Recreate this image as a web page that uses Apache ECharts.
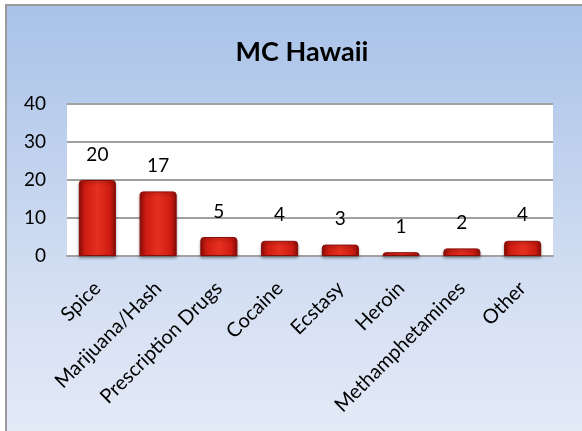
<!DOCTYPE html>
<html>
<head>
<meta charset="utf-8">
<script src="https://cdn.jsdelivr.net/npm/echarts@6/dist/echarts.min.js"></script>
<style>
html,body{margin:0;padding:0;background:#fff;}
#chart{width:582px;height:431px;}
</style>
</head>
<body>
<div id="chart"></div>
<script>
var categories = ['Spice','Marijuana/Hash','Prescription Drugs','Cocaine','Ecstasy','Heroin','Methamphetamines','Other'];
var values = [20, 17, 5, 4, 3, 1, 2, 4];
var yTicks = [0, 10, 20, 30, 40];
var titleText = 'MC Hawaii';

var FONT = 'Lato, "Liberation Sans", sans-serif';
var chart = echarts.init(document.getElementById('chart'), null, {renderer:'canvas'});
var barColor = new echarts.graphic.LinearGradient(0,0,1,0,[
  {offset:0, color:'#8e0d08'},
  {offset:0.18, color:'#cf1d12'},
  {offset:0.5, color:'#e5301f'},
  {offset:0.82, color:'#cf1d12'},
  {offset:1, color:'#8e0d08'}
]);
chart.setOption({
  animation:false,
  graphic:[{
    type:'rect', z:-10, silent:true,
    shape:{x:6, y:5, width:600, height:460},
    style:{
      fill:new echarts.graphic.LinearGradient(0,0,0,1,[
        {offset:0, color:'#a8c2e8'},
        {offset:0.6, color:'#d3def2'},
        {offset:1, color:'#e7edf8'}
      ]),
      stroke:'#9a9a9a', lineWidth:2
    }
  }],
  title:{
    text:titleText, left:297, top:34, textAlign:'center',
    textStyle:{fontFamily:FONT, fontWeight:'bold', fontSize:27, color:'#000'}
  },
  grid:{left:67, right:29, top:104, bottom:175, show:true, backgroundColor:'#fff', borderWidth:0, containLabel:false},
  xAxis:{
    type:'category', data:categories,
    axisLine:{show:true, lineStyle:{color:'#a0a0a0', width:2}},
    axisTick:{show:false},
    axisLabel:{rotate:45, interval:0, margin:29, fontFamily:FONT, fontSize:20, color:'#000'}
  },
  yAxis:{
    type:'value', min:yTicks[0], max:yTicks[yTicks.length-1], interval:10,
    axisLine:{show:false}, axisTick:{show:false},
    axisLabel:{margin:21, fontFamily:FONT, fontSize:19, color:'#000'},
    splitLine:{lineStyle:{color:'#a0a0a0', width:2}}
  },
  series:[{
    type:'bar', data:values, barWidth:'61%',
    itemStyle:{color:barColor, borderColor:'#8a0c08', borderWidth:1, borderRadius:[3,3,0,0],
      shadowColor:'rgba(0,0,0,0.35)', shadowBlur:3, shadowOffsetY:2},
    label:{show:true, position:'top', distance:16, fontFamily:FONT, fontSize:19, color:'#000'}
  }]
});
</script>
</body>
</html>
